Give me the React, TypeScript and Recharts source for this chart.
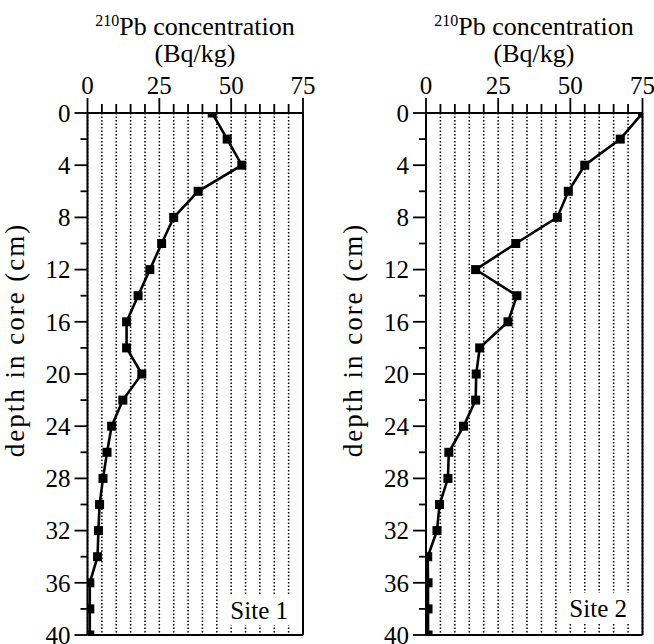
import React from "react";
import { ScatterChart, Scatter, XAxis, YAxis, CartesianGrid, ReferenceLine } from "recharts";

const depths = [0, 2, 4, 6, 8, 10, 12, 14, 16, 18, 20, 22, 24, 26, 28, 30, 32, 34, 36, 38, 40];
const site1Values = [43.4, 48.6, 53.7, 38.5, 30.0, 25.8, 21.7, 17.6, 13.6, 13.6, 18.9, 12.3, 8.4, 6.8, 5.4, 4.2, 3.8, 3.5, 0.8, 0.8, 0.8];
const site2Values = [75.0, 67.3, 55.0, 49.3, 45.5, 31.1, 17.2, 31.5, 28.4, 18.6, 17.4, 17.2, 13.0, 7.9, 7.6, 4.7, 3.8, 0.6, 0.7, 0.7, 0.7];
const xTicks = [0, 5, 10, 15, 20, 25, 30, 35, 40, 45, 50, 55, 60, 65, 70, 75];
const xLabelTicks = [0, 25, 50, 75];
const yTicks = [0, 2, 4, 6, 8, 10, 12, 14, 16, 18, 20, 22, 24, 26, 28, 30, 32, 34, 36, 38, 40];
const yLabelTicks = [0, 4, 8, 12, 16, 20, 24, 28, 32, 36, 40];
const titleSup = "210";
const titleMain = "Pb concentration";
const titleUnit = "(Bq/kg)";
const yLabel = "depth in core (cm)";
const siteNames = ["Site 1", "Site 2"];

const FONT = "'Liberation Serif', 'Times New Roman', serif";

const site1 = depths.map((d, i) => ({ depth: d, value: site1Values[i] }));
const site2 = depths.map((d, i) => ({ depth: d, value: site2Values[i] }));

const XTick = (props: any) => {
  const { x, y, payload } = props;
  const major = xLabelTicks.includes(payload.value);
  return (
    <g>
      <line x1={x} x2={x} y1={y} y2={y - (major ? 15 : 9)} stroke="#000" strokeWidth={1.8} />
      {major && (
        <text x={x} y={y - 19} textAnchor="middle" fontFamily={FONT} fontSize={25} fill="#000">
          {payload.value}
        </text>
      )}
    </g>
  );
};

const YTick = (props: any) => {
  const { x, y, payload } = props;
  const major = yLabelTicks.includes(payload.value);
  return (
    <g>
      <line x1={x} x2={x - (major ? 13 : 7)} y1={y} y2={y} stroke="#000" strokeWidth={1.8} />
      {major && (
        <text x={x - 17} y={y} dy="0.35em" textAnchor="end" fontFamily={FONT} fontSize={25} fill="#000">
          {payload.value}
        </text>
      )}
    </g>
  );
};

const SquareDot = (props: any) => {
  const { cx, cy } = props;
  if (cx == null || cy == null) return null;
  return <rect x={cx - 4.5} y={cy - 4.5} width={9} height={9} fill="#000" />;
};

const Panel = ({ data, left, width, margin }: any) => (
  <div style={{ position: "absolute", left, top: 0, width, height: 644 }}>
    <ScatterChart width={width} height={644} margin={margin}>
      <CartesianGrid horizontal={false} stroke="#000" strokeWidth={1.5} strokeDasharray="1.5 2" />
      <XAxis
        type="number"
        dataKey="value"
        orientation="top"
        domain={[0, 75]}
        ticks={xTicks}
        interval={0}
        height={1}
        tickSize={0}
        tickMargin={0}
        axisLine={{ stroke: "#000", strokeWidth: 2 }}
        tickLine={false}
        tick={<XTick />}
        allowDataOverflow
      />
      <YAxis
        type="number"
        dataKey="depth"
        reversed
        domain={[0, 40]}
        ticks={yTicks}
        interval={0}
        width={1}
        tickSize={0}
        tickMargin={0}
        axisLine={{ stroke: "#000", strokeWidth: 2 }}
        tickLine={false}
        tick={<YTick />}
        allowDataOverflow
      />
      <ReferenceLine x={75} stroke="#000" strokeWidth={2} />
      <ReferenceLine y={40} stroke="#000" strokeWidth={2} />
      <Scatter
        data={data}
        fill="#000"
        line={{ stroke: "#000", strokeWidth: 2.6 }}
        lineType="joint"
        shape={<SquareDot />}
        isAnimationActive={false}
      />
    </ScatterChart>
  </div>
);

const Overlay = () => {
  const titles = [
    { cx: 195, lx: 15 },
    { cx: 534, lx: 353 },
  ];
  return (
    <svg width={654} height={644} style={{ position: "absolute", left: 0, top: 0, pointerEvents: "none" }}>
      {titles.map((t, i) => (
        <g key={i}>
          <text x={t.cx} y={35} textAnchor="middle" fontFamily={FONT} fill="#000">
            <tspan fontSize={16} dy={-9}>{titleSup}</tspan>
            <tspan fontSize={26} dy={9}>{titleMain}</tspan>
          </text>
          <text x={t.cx} y={62} textAnchor="middle" fontFamily={FONT} fontSize={26} fill="#000">
            {titleUnit}
          </text>
          <text
            x={t.lx}
            y={340}
            transform={`rotate(-90, ${t.lx}, 340)`}
            textAnchor="middle"
            dy="0.35em"
            fontFamily={FONT}
            fontSize={27}
            letterSpacing={2}
            fill="#000"
          >
            {yLabel}
          </text>
        </g>
      ))}
      <rect x={225} y={595} width={72} height={30} fill="#fff" />
      <text x={288} y={619} textAnchor="end" fontFamily={FONT} fontSize={25} fill="#000">
        {siteNames[0]}
      </text>
      <rect x={563} y={593} width={72} height={30} fill="#fff" />
      <text x={627} y={617} textAnchor="end" fontFamily={FONT} fontSize={25} fill="#000">
        {siteNames[1]}
      </text>
    </svg>
  );
};

export default function App() {
  return (
    <div style={{ position: "absolute", left: 0, top: 0, width: 654, height: 644, background: "#fff" }}>
      <Panel data={site1} left={0} width={330} margin={{ top: 112, left: 86.5, right: 27, bottom: 9 }} />
      <Panel data={site2} left={330} width={324} margin={{ top: 112, left: 95, right: 11.5, bottom: 9 }} />
      <Overlay />
    </div>
  );
}
